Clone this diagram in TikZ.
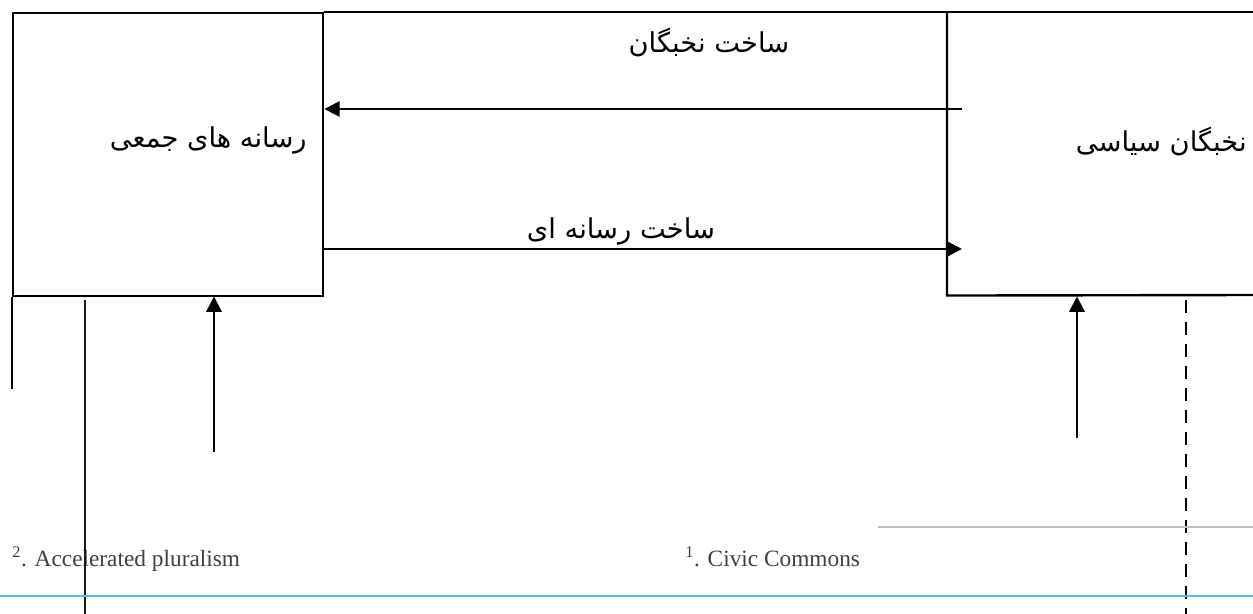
\documentclass[tikz,border=0pt]{standalone}
\usepackage{fontspec}
\setmainfont{Liberation Serif}
\newfontfamily\arabicfont[Script=Arabic]{DejaVu Sans}
\TeXXeTstate=1
\usetikzlibrary{arrows.meta}
\definecolor{footblue}{RGB}{84,190,236}
\definecolor{footgray}{RGB}{190,190,190}
\definecolor{notetext}{RGB}{64,64,64}
\tikzset{
  frame/.style={line width=1.8pt, black},
  flow/.style={line width=1.8pt, black, -{Triangle[length=11.5pt,width=11.5pt]}},
  fa/.style={font=\arabicfont\fontsize{20.5}{24}\selectfont, inner sep=0pt},
  note/.style={font=\fontsize{17.5}{20}\selectfont, text=notetext, inner sep=0pt, anchor=base west},
}
\begin{document}
\begin{tikzpicture}[x=0.75pt,y=-0.75pt]
\useasboundingbox (0,0) rectangle (1253,614);
% boxes
\node[frame, draw, rectangle, minimum width=232.5pt, minimum height=212.25pt, anchor=north west, inner sep=0pt] (media) at (12,12) {};
\node[rectangle, minimum width=229.5pt, minimum height=212.25pt, anchor=north west, inner sep=0pt] (elite) at (947,12) {};
\draw[frame] (media.north east) -- (1253,12);
\draw[frame] (elite.north west) -- (elite.south west) -- (1253,295);
\draw[frame] (media.south west) -- (12,389);
% labels
\node[fa, anchor=east] (lmedia) at (307,140) {\beginR رسانه های جمعی\endR};
\node[fa, anchor=east] (lelite) at (1247,141) {\beginR نخبگان سیاسی\endR};
\node[fa] (lelbuild) at (709,42) {\beginR ساخت نخبگان\endR};
\node[fa] (lmedbuild) at (621,231) {\beginR ساخت رسانه ای\endR};
% horizontal arrows
\coordinate (a1s) at (962,109);
\coordinate (a1e) at (media.east |- a1s);
\draw[flow] (a1s) -- (a1e);
\coordinate (a2s) at (322,249);
\coordinate (a2e) at (962,249);
\draw[flow] (a2s) -- (a2e);
% vertical arrows
\coordinate (v1s) at (214,452);
\coordinate (v1e) at (214,296.5);
\draw[flow] (v1s) -- (v1e);
\coordinate (v2s) at (1077,438);
\coordinate (v2e) at (1077,296.5);
\draw[flow] (v2s) -- (v2e);
% footnotes
\node[note] (n2) at (12,566) {\textsuperscript{2}. Accelerated pluralism};
\node[note] (n1) at (685,566) {\textsuperscript{1}. Civic Commons};
% long verticals
\coordinate (l1s) at (85,300);
\coordinate (l1e) at (85,614);
\draw[line width=1.5pt, black!90] (l1s) -- (l1e);
\coordinate (d1s) at (1186,300);
\coordinate (d1e) at (1186,614);
\draw[line width=1.6pt, black, dash pattern=on 9.4pt off 7.1pt] (d1s) -- (d1e);
% separators
\coordinate (g1s) at (878,527);
\coordinate (g1e) at (1253,527);
\draw[line width=1.9pt, footgray] (g1s) -- (g1e);
\coordinate (b1s) at (0,596);
\coordinate (b1e) at (1253,596);
\draw[line width=2pt, footblue] (b1s) -- (b1e);
\end{tikzpicture}
\end{document}
